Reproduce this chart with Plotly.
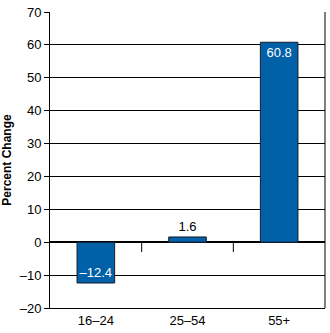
import plotly.graph_objects as go

categories = ["16–24", "25–54", "55+"]
values = [-12.4, 1.6, 60.8]
labels = ["–12.4", "1.6", "60.8"]
y_ticks = [-20, -10, 0, 10, 20, 30, 40, 50, 60, 70]
y_ticktext = ["–20", "–10", "0", "10", "20", "30", "40", "50", "60", "70"]

fig = go.Figure()
fig.add_trace(go.Bar(
    x=[0, 1, 2], y=values, width=0.41,
    marker=dict(color="#0060A8", line=dict(color="#1a1a2a", width=1)),
    text=labels, textposition=["inside", "outside", "inside"],
    insidetextanchor="end", textangle=0, constraintext="none",
    insidetextfont=dict(color="white", size=13, family="Liberation Sans, Arial"),
    outsidetextfont=dict(color="black", size=13, family="Liberation Sans, Arial"),
    cliponaxis=False,
))

# small separators at zero line between categories
for xb in [0.5, 1.5]:
    fig.add_shape(type="line", x0=xb, x1=xb, y0=0, y1=-3, xref="x", yref="y",
                  line=dict(color="black", width=1))

fig.update_layout(
    width=330, height=333,
    margin=dict(l=47, r=5, t=8, b=23),
    plot_bgcolor="white", paper_bgcolor="white",
    showlegend=False,
    font=dict(family="Liberation Sans, Arial", size=13, color="black"),
    xaxis=dict(range=[-0.5, 2.5], tickvals=[0, 1, 2], ticktext=categories,
               showgrid=False, zeroline=False, showline=True, linecolor="black",
               linewidth=1, mirror=False, ticks="", tickfont=dict(size=13)),
    yaxis=dict(range=[-20, 70], tickvals=y_ticks, ticktext=y_ticktext,
               showgrid=True, gridcolor="black", gridwidth=1,
               zeroline=True, zerolinecolor="black", zerolinewidth=1.5,
               showline=True, linecolor="black", linewidth=1,
               ticks="outside", ticklen=5, tickcolor="black",
               tickfont=dict(size=13),
               title=dict(text="<b>Percent Change</b>", font=dict(size=12), standoff=6)),
)
# right border
fig.add_shape(type="line", x0=1, x1=1, y0=0, y1=1, xref="paper", yref="paper",
              line=dict(color="black", width=1))

fig.write_html("out.html")
